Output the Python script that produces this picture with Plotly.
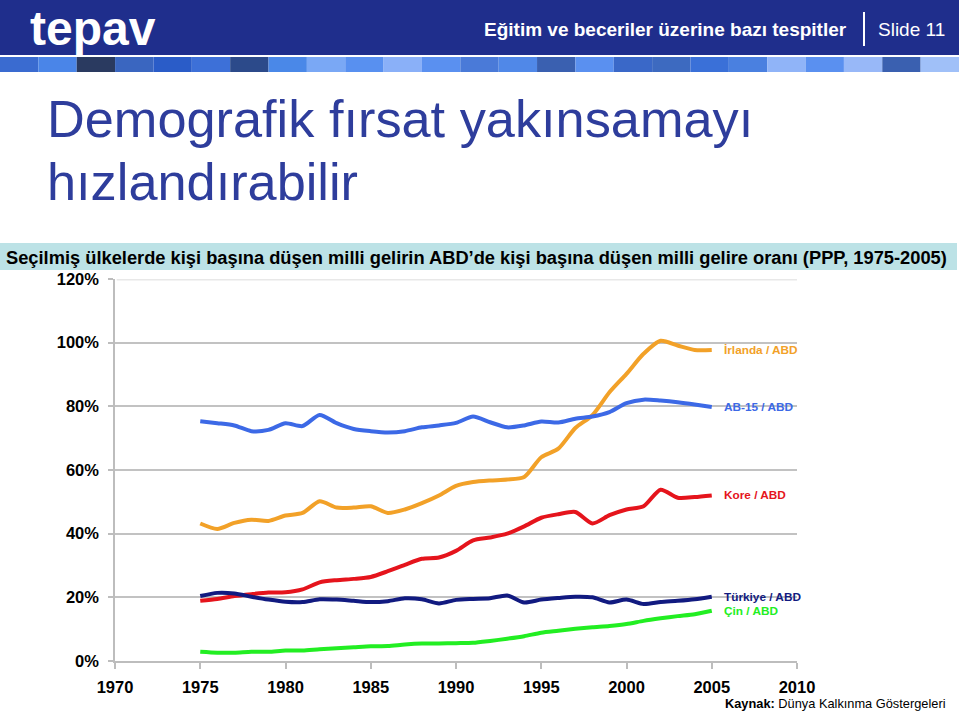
import plotly.graph_objects as go

W, H = 959, 713

years = list(range(1975, 2006))
ab15 = [75.3, 74.7, 74.0, 72.2, 72.6, 74.7, 73.8, 77.3, 74.7, 72.9, 72.2, 71.8, 72.2, 73.4, 74.0, 74.8,
        76.8, 75.0, 73.4, 74.0, 75.2, 74.9, 76.1, 76.8, 78.2, 81.0, 82.1, 81.8, 81.3, 80.6, 79.8]
irlanda = [43.2, 41.5, 43.4, 44.4, 44.0, 45.7, 46.5, 50.2, 48.2, 48.2, 48.6, 46.5, 47.6, 49.6, 52.0, 55.0,
           56.2, 56.7, 57.0, 57.8, 64.0, 66.7, 73.2, 77.2, 84.4, 90.2, 96.5, 100.6, 99.1, 97.7, 97.7]
kore = [18.9, 19.5, 20.4, 21.0, 21.5, 21.6, 22.5, 24.7, 25.4, 25.8, 26.4, 28.2, 30.2, 32.1, 32.5, 34.6,
        37.9, 38.8, 40.0, 42.3, 45.0, 46.1, 46.8, 43.2, 45.8, 47.6, 48.6, 53.8, 51.3, 51.5, 52.0]
turkiye = [20.4, 21.4, 21.2, 20.2, 19.3, 18.6, 18.5, 19.4, 19.3, 18.9, 18.5, 18.8, 19.7, 19.4, 18.1, 19.2,
           19.5, 19.7, 20.6, 18.4, 19.3, 19.8, 20.2, 20.0, 18.4, 19.3, 17.9, 18.5, 18.9, 19.4, 20.2]
cin = [2.9, 2.6, 2.6, 2.9, 2.9, 3.3, 3.3, 3.7, 4.0, 4.3, 4.6, 4.7, 5.2, 5.5, 5.5, 5.6,
       5.7, 6.3, 7.0, 7.8, 8.9, 9.5, 10.1, 10.6, 11.0, 11.6, 12.6, 13.4, 14.1, 14.7, 15.8]

series_names = ["İrlanda / ABD", "AB-15 / ABD", "Kore / ABD", "Türkiye / ABD", "Çin / ABD"]
series_values = [irlanda, ab15, kore, turkiye, cin]
series_colors = ["#F2A128", "#3C69E6", "#E5141C", "#111A80", "#22EE22"]

x_ticks = [1970, 1975, 1980, 1985, 1990, 1995, 2000, 2005, 2010]
y_ticks = [0, 20, 40, 60, 80, 100, 120]
y_tick_labels = ["0%", "20%", "40%", "60%", "80%", "100%", "120%"]

title_lines = ["Demografik fırsat yakınsamayı", "hızlandırabilir"]
subtitle = "Seçilmiş ülkelerde kişi başına düşen milli gelirin ABD’de kişi başına düşen milli gelire oranı (PPP, 1975-2005)"
header_text = "Eğitim ve beceriler üzerine bazı tespitler"
slide_text = "Slide 11"
logo_text = "tepav"
source_text = "<b>Kaynak:</b> Dünya Kalkınma Göstergeleri"

block_colors = ["#3A6BD0", "#4A85E8", "#2A3A60", "#3A66C0", "#2A5CC8", "#3D70D8", "#2C4A8A", "#4A88E8",
                "#7AA8F5", "#5890F0", "#8AB0F8", "#5A90F0", "#4A7AD8", "#5088E8", "#3A60B0", "#5A90F0",
                "#3A68C8", "#3D6AC0", "#3A70D8", "#4A80E0", "#90B4F8", "#5A90F0", "#98B8F8", "#3A60B0",
                "#A0C0F8"]


def px(x):
    return x / W


def py(y):
    return 1 - y / H


FONT = "Liberation Sans, Arial, sans-serif"

fig = go.Figure()
for name, vals, col in zip(series_names, series_values, series_colors):
    fig.add_trace(go.Scatter(x=years, y=vals, mode="lines", name=name,
                             line=dict(color=col, width=4, shape="spline", smoothing=0.7),
                             showlegend=False, hoverinfo="skip"))

annotations = []
for name, vals, col in zip(series_names, series_values, series_colors):
    annotations.append(dict(x=years[-1] + 0.6, y=vals[-1], xref="x", yref="y", text="<b>%s</b>" % name,
                            showarrow=False, xanchor="left", yanchor="middle",
                            font=dict(family=FONT, size=11.8, color=col)))

# header texts
annotations += [
    dict(x=px(28), y=py(28), xref="paper", yref="paper", text="<b>%s</b>" % logo_text, showarrow=False,
         xanchor="left", yanchor="middle", font=dict(family=FONT, size=48, color="white")),
    dict(x=px(849), y=py(29), xref="paper", yref="paper", text="<b>%s</b>" % header_text, showarrow=False,
         xanchor="right", yanchor="middle", font=dict(family=FONT, size=19, color="white")),
    dict(x=px(876), y=py(29), xref="paper", yref="paper", text=slide_text, showarrow=False,
         xanchor="left", yanchor="middle", font=dict(family=FONT, size=19, color="white")),
    dict(x=px(45), y=py(119), xref="paper", yref="paper", text=title_lines[0], showarrow=False,
         xanchor="left", yanchor="middle", font=dict(family=FONT, size=52.3, color="#2E3D9C")),
    dict(x=px(45), y=py(182), xref="paper", yref="paper", text=title_lines[1], showarrow=False,
         xanchor="left", yanchor="middle", font=dict(family=FONT, size=52.3, color="#2E3D9C")),
    dict(x=px(4), y=py(257), xref="paper", yref="paper", text="<b>%s</b>" % subtitle, showarrow=False,
         xanchor="left", yanchor="middle", font=dict(family=FONT, size=18.3, color="black")),
    dict(x=px(948), y=py(703), xref="paper", yref="paper", text=source_text, showarrow=False,
         xanchor="right", yanchor="middle", font=dict(family=FONT, size=12.8, color="black")),
]

shapes = [
    dict(type="rect", xref="paper", yref="paper", x0=0, x1=1, y0=py(55), y1=py(0),
         fillcolor="#1F2E8C", line=dict(width=0), layer="below"),
    dict(type="line", xref="paper", yref="paper", x0=px(864), x1=px(864), y0=py(12), y1=py(46),
         line=dict(color="white", width=2)),
    dict(type="rect", xref="paper", yref="paper", x0=0, x1=px(957), y0=py(270), y1=py(243),
         fillcolor="#BCE2E6", line=dict(width=0), layer="below"),
    dict(type="line", xref="x", yref="y", x0=1970.1, x1=2010, y0=120, y1=120,
         line=dict(color="#E8E8E8", width=3), layer="above"),
]
bw = W / len(block_colors)
for i, c in enumerate(block_colors):
    shapes.append(dict(type="rect", xref="paper", yref="paper", x0=px(i * bw), x1=px((i + 1) * bw),
                       y0=py(72), y1=py(57), fillcolor=c, line=dict(width=0), layer="below"))

fig.update_layout(
    width=W, height=H, margin=dict(l=0, r=0, t=0, b=0, pad=0, autoexpand=False),
    paper_bgcolor="white", plot_bgcolor="white",
    annotations=annotations, shapes=shapes,
    xaxis=dict(domain=[px(115), px(797)], range=[1970, 2010], tickvals=x_ticks,
               ticktext=[str(v) for v in x_ticks], showgrid=False, zeroline=False,
               showline=True, linecolor="#BDBDBD", linewidth=1.5,
               ticks="outside", ticklen=6, tickcolor="#BDBDBD", tickwidth=1.5,
               ticklabelstandoff=4,
               tickfont=dict(family=FONT, size=16.5, color="black", weight="bold")),
    yaxis=dict(domain=[1 - 661 / H, 1 - 279 / H], range=[0, 120], tickvals=y_ticks,
               ticktext=y_tick_labels, showgrid=True, gridcolor="#C2C2C2", gridwidth=2,
               zeroline=False, showline=True, linecolor="#BDBDBD", linewidth=1.5,
               ticks="outside", ticklen=5, tickcolor="#BDBDBD", tickwidth=1.5,
               ticklabelstandoff=6,
               tickfont=dict(family=FONT, size=16.5, color="black", weight="bold")),
)

fig.write_html("out.html")
